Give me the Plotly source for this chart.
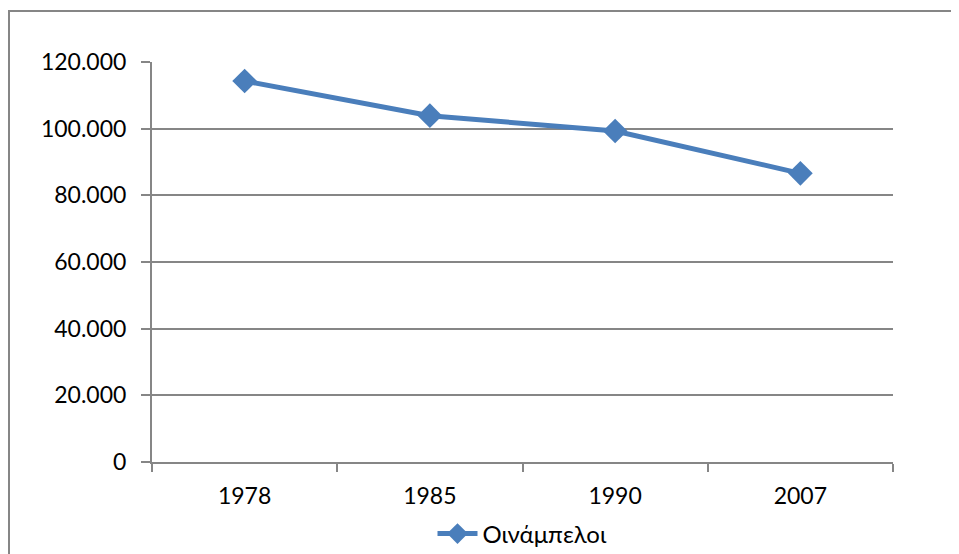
import plotly.graph_objects as go

years = ["1978", "1985", "1990", "2007"]
vineyards = [114300, 103900, 99300, 86600]
series_name = "Οινάμπελοι"
y_ticks = [0, 20000, 40000, 60000, 80000, 100000, 120000]

# the page body has an 8px margin, so the figure is drawn 8px smaller
OFF = 8
W, H = 959 - OFF, 554 - OFF
L, R, T, B = 152 - OFF, 66, 62 - OFF, 92
pw, ph = W - L - R, H - T - B

blue = "#4A7EBB"
grey = "#868686"
font = "Lato, 'Noto Sans', sans-serif"

fig = go.Figure()
fig.add_trace(go.Scatter(
    x=years, y=vineyards, name=series_name, mode="lines+markers",
    line=dict(color=blue, width=5),
    marker=dict(symbol="diamond", size=19, color=blue),
))

fig.update_layout(
    width=W, height=H, autosize=False,
    margin=dict(l=L, r=R, t=T, b=B, autoexpand=False),
    paper_bgcolor="white", plot_bgcolor="white",
    separators=",.",
    font=dict(family=font, size=23, color="#000000"),
    showlegend=True,
    legend=dict(orientation="h", x=0.5, xanchor="center", y=-(534 - 462) / ph,
                yanchor="middle", font=dict(size=24, family=font),
                itemwidth=40, bgcolor="rgba(0,0,0,0)"),
    xaxis=dict(type="category", range=[-0.5, len(years) - 0.5],
               showgrid=False, showline=True, linecolor=grey,
               linewidth=2, ticks="outside", tickson="boundaries", ticklen=8,
               tickcolor=grey, tickwidth=2, zeroline=False,
               ticklabelstandoff=12,
               tickfont=dict(size=23, family=font)),
    yaxis=dict(range=[0, 120000], tickvals=y_ticks, tickformat=",.0f",
               showgrid=True, gridcolor=grey, gridwidth=2, showline=True,
               linecolor=grey, linewidth=2, ticks="outside", ticklen=9,
               tickcolor=grey, tickwidth=2, zeroline=False,
               ticklabelstandoff=10,
               tickfont=dict(size=23, family=font)),
    shapes=[dict(type="rect", xref="paper", yref="paper",
                 x0=(9 - 152) / pw, x1=(W + 20 - L) / pw,
                 y0=-(H + 20 - T - ph) / ph, y1=(462 - 11) / ph,
                 line=dict(color=grey, width=2), fillcolor="rgba(0,0,0,0)",
                 layer="below")],
)

fig.write_html("out.html")
